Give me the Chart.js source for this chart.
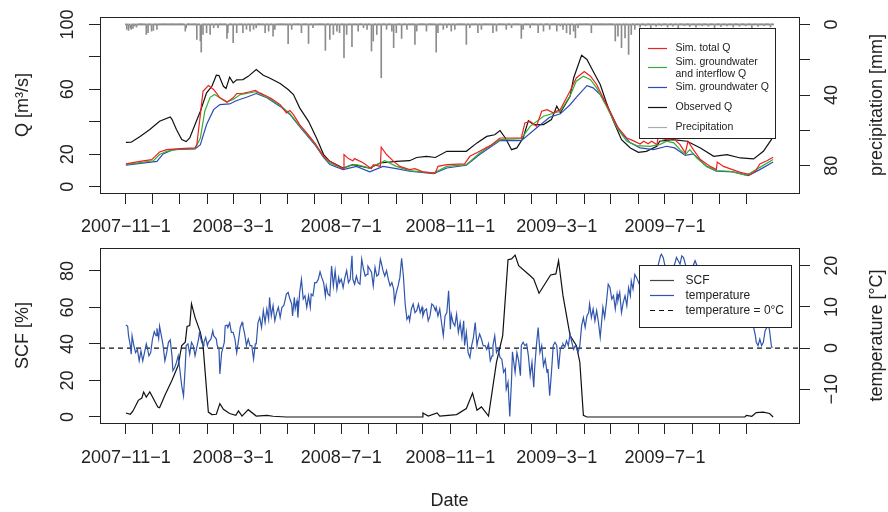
<!DOCTYPE html>
<html>
<head>
<meta charset="utf-8">
<script src="https://cdn.jsdelivr.net/npm/chart.js@4.4.1/dist/chart.umd.min.js"></script>
<style>
  body { margin: 0; background: #fff; width: 888px; height: 512px; position: relative; overflow: hidden; }
  canvas { position: absolute; left: 0; }
  #top { top: 0; }
  #bot { top: 240px; }
</style>
</head>
<body>
<canvas id="top" width="888" height="240"></canvas>
<canvas id="bot" width="888" height="272"></canvas>
<script>
// ---- data (day 0 = 2007-11-01) ----
const monthTicks = ["2007-11-1","2007-12-1","2008-1-1","2008-2-1","2008-3-1","2008-4-1","2008-5-1","2008-6-1",
  "2008-7-1","2008-8-1","2008-9-1","2008-10-1","2008-11-1","2008-12-1","2009-1-1","2009-2-1","2009-3-1",
  "2009-4-1","2009-5-1","2009-6-1","2009-7-1","2009-8-1","2009-9-1","2009-10-1"];
const labelledTicks = ["2007-11-1","2008-3-1","2008-7-1","2008-11-1","2009-3-1","2009-7-1"];

const obsDays = [0,6,16,27,38,50,52,57,63,68,72,78,84,91,97,102,105,110,113,117,121,125,132,138,147,155,162,174,183,189,
  196,206,215,223,230,245,256,275,287,305,320,328,339,349,362,373,384,396,407,416,422,428,435,441,448,454,460,471,480,486,
  490,501,505,514,520,527,535,542,550,559,569,578,587,599,602,617,633,648,663,678,693,708,719,728,730];
const obsQ = [27.3,27.4,31,35.2,40.3,43,41.5,35.2,29,27.8,30,38.3,46.5,57.8,61.9,68.7,68.5,61.9,60.5,67.5,
  64,65.9,66,68,72.2,68.7,67,63.6,59.9,56.8,48.6,40.3,30,19.8,15.6,11.5,13.6,11.5,14.6,15.6,
  16,18,18.7,18,21.8,21.8,21.8,27,31,32,34.6,30,22.8,23.9,30,40.7,38.3,38.3,41.4,49.6,
  45.5,55.7,67,81,78.4,71.2,63,51.7,40.3,29,23.9,21.2,21.8,24.9,28,29,28,23.9,18.7,19.8,17.7,17.1,21.8,29,32];

const totDays = [0,16,29,33,38,46,61,78,80,84,87,93,99,106,114,121,125,132,140,146,151,159,164,174,181,185,189,196,206,213,
  223,230,245,246,251,256,258,268,277,279,287,288,294,302,309,320,326,335,349,352,362,382,388,399,411,422,446,450,456,463,
  469,475,482,490,501,508,517,524,531,542,554,565,572,580,584,589,593,599,601,605,610,618,625,631,634,640,648,659,666,667,
  674,681,693,704,710,715,723,730];
const totQ = [14,15.6,16.7,18.7,21.4,22.8,23.5,23.9,25.9,44.4,58.8,62.3,59.9,54.8,52,54.8,57.4,57.6,58.5,59.3,
  57.8,55.7,54.3,50.6,45.5,46.9,44.4,38.3,31.7,27,18.7,15.6,11.1,19.8,17.3,16,17.3,14.6,11.1,13.6,
  12.5,24.3,19.8,15.6,12.5,10.5,11.1,9.1,8.4,12.5,13.6,14,18.7,21.8,25.3,30,30,39.3,40.3,37.2,
  46.5,47.5,45.5,47.5,59,67,71,68.1,63,50.6,37.2,30,28.4,26.3,28,26.5,28,25.9,33,29.5,
  29,29.6,25.9,20.8,28,22.8,16.7,12.5,10.5,15.2,12.5,11.1,8.8,7.4,9.5,14,16,18.1];

const gwiDays = [0,31,38,46,61,78,84,89,95,100,106,114,121,129,146,151,164,174,185,196,213,223,230,245,253,260,275,292,305,320,
  347,362,384,399,422,446,456,471,490,501,508,516,524,531,542,554,565,576,591,602,610,618,625,631,636,644,655,666,681,700,715,730];
const gwiQ = [13.6,16,19.8,21.8,23.3,23.5,30,46.5,55.1,56.8,54.8,52.3,53.7,56.8,58.5,57.3,53.6,50,45,37.5,
  26.5,18.5,14.6,11.1,13.2,13.6,11.5,16,12.5,9.9,8.4,12.5,13.6,20.8,29,29.6,37.2,43.4,46.5,56,
  65,68.1,66,60.9,49.6,36.2,28,25.3,24.9,25.9,28,27,22.8,19.8,22.8,17.7,12.5,9.9,9.5,7,11.9,16.7];

const gwDays = [0,35,42,53,78,84,91,99,106,117,125,136,147,159,174,185,196,213,223,230,245,260,275,290,305,320,347,362,384,399,
  422,446,463,478,490,501,508,520,527,535,546,557,569,580,595,610,619,631,640,655,666,685,702,715,730];
const gwQ = [13.3,15.6,20.2,22.8,23.3,25.9,38.3,47.5,50.6,51,53.1,55.1,57.4,54.8,49.5,44.5,37,26,18,13.6,
  10.5,12.5,9.1,12.5,11.1,9.5,8,11.5,13.2,19.8,28.4,28.4,36.2,42.8,44.9,50.5,55,62.3,60.9,56.8,
  46.5,34.1,27,23.9,22.8,24.9,23.9,19.3,20.2,12.5,9.5,9.1,6.8,10.5,15.2];

const precDays = [1,3,5,6,8,10,12,23,25,29,31,35,67,68,80,84,85,87,91,95,99,104,114,115,121,125,132,136,140,144,
  147,157,161,166,168,183,187,198,206,211,225,230,234,238,241,246,249,255,262,268,272,277,279,283,288,294,300,302,305,311,
  317,326,328,339,350,352,358,362,367,371,384,388,397,401,414,418,429,435,446,448,456,465,471,478,486,490,493,497,501,505,
  507,510,525,552,555,559,563,567,570,574,580,586,592,598,604,611,617,623,630,636,643,650,657,664,671,678,685,692,699,706,
  713,720,727];
const precMm = [2.8,3.4,1.9,2.8,2.3,0.9,1.5,5.7,4.7,3.8,3.4,2.8,3.8,1.9,8.5,9.4,15.7,5.7,4.7,5.7,
  1.9,1.9,7.9,4.7,10.4,4.7,4.7,2.8,3.8,2.8,1.9,4.7,3.8,6.6,2.8,10.9,2.8,4.7,10.8,1.9,
  14.7,8.5,5.7,3.8,4.7,18.9,5.7,12.6,3.8,1.9,2.8,15.1,9.4,5.7,30.2,2.8,3.8,13.2,4.7,7.9,
  2.8,11.3,3.8,3.8,15.7,4.7,2.8,1.9,3.8,2.8,11.3,1.9,4.7,2.8,4.7,3.8,2.8,1.9,7.9,2.8,
  1.9,4.7,3.8,2.8,3.8,0.9,2.8,4.7,5.7,3.8,7.6,1.9,4.7,9.4,6.6,13.2,7.6,17,5.7,2.8,
  1.5,0.8,1.9,1.2,0.8,1.5,1.0,1.9,0.8,1.2,1.5,0.8,1.0,1.9,1.2,0.8,1.5,1.0,0.8,1.9,1.2,0.8,1.5];

const scfDays = [0,5,8,14,18,20,23,27,33,36,38,44,52,59,63,67,69,72,74,78,84,87,93,97,102,106,110,117,124,127,
  131,138,147,159,166,181,334,335,341,351,354,373,384,391,396,401,409,418,425,431,435,439,443,456,460,466,479,485,488,493,
  501,508,512,516,520,698,700,706,711,719,726,730];
const scfPct = [2.2,1.5,3.3,9.1,10.4,13.7,10.9,13.7,8.2,5.5,5.1,11.9,20.1,28.3,39.2,41,49.6,50.1,62,54.6,
  46.4,39.2,2.7,1.3,1.5,7.3,4.2,1.9,0.9,3.3,0.5,4,0.5,0.9,0.4,0,0,2.2,0.5,2.2,
  0.5,1.3,4.6,13.1,3.7,5.5,0.5,30,44.6,86.2,86.6,88.7,82.9,77.4,75.6,67.8,77.8,78.4,85.6,66.5,
  44.6,39.2,30,0.9,0,0,0.9,0.4,2.4,2.7,1.9,0];

const tempDays = [0,2,3,5,6,7,9,11,13,15,17,19,21,23,24,26,28,30,32,34,35,37,38,40,42,44,46,48,50,52,
  53,55,57,59,61,63,65,67,68,70,72,74,76,78,80,82,83,85,87,88,90,92,93,96,98,99,102,103,105,106,
  108,109,111,112,114,115,117,119,121,123,125,127,129,131,132,134,136,138,140,142,144,146,147,149,151,153,155,157,159,161,
  162,164,166,168,170,172,174,176,178,179,181,183,185,187,188,190,191,193,194,196,198,200,202,204,206,208,209,211,213,215,
  217,219,221,223,225,226,228,
  230,232,234,236,238,240,241,243,245,247,249,251,253,255,256,258,260,262,264,266,268,270,272,273,275,277,279,281,283,285,
  287,288,290,292,294,296,298,300,302,303,305,307,309,311,313,315,317,319,320,322,324,326,328,330,332,334,335,337,339,341,
  343,345,347,349,350,352,354,356,358,360,362,364,366,367,369,371,373,375,377,379,381,382,384,386,388,390,392,394,396,397,
  399,401,403,405,407,409,411,413,414,416,418,420,422,424,426,428,429,431,433,435,436,438,439,
  441,443,445,446,448,450,452,454,456,458,460,461,463,465,467,469,471,473,475,476,478,480,482,484,486,488,490,
  492,493,495,497,499,501,503,505,507,508,510,512,514,516,518,520,522,523,525,527,529,531,533,535,537,538,540,542,544,546,
  548,550,552,554,555,557,559,561,563,565,567,569,570,572,574,576,580,584,587,591,595,599,603,604,606,608,612,616,619,621,
  623,625,627,629,631,635,638,642,644,648,653,659,665,670,676,682,687,693,699,704,708,710,711,713,715,717,719,721,723,725,
  726,728,729];
const tempC = [5.6,5.3,3.0,0.6,-1.5,3.0,0.6,-1.1,-0.3,-3.1,-0.7,-3.1,-1.1,1.0,0.2,-1.9,-1.1,2.2,4.0,3.0,
  4.8,2.3,5.3,3.0,0.6,-3.1,-1.1,1.4,2.0,-1.9,-5.5,-4.7,-3.5,-1.9,-5.5,-9.2,-11.6,-4.3,0.6,1.0,
  -1.5,1.4,0.6,-1.9,0.2,2.2,3.8,1.8,0.6,1.4,2.6,0.6,1.4,2.2,4.2,3.0,2.2,0.6,-0.3,-6.3,
  -1.1,-0.3,1.4,5.4,5.6,5.0,6.1,3.8,3.8,2.2,-1.1,1.8,5.0,6.2,5.4,3.4,0.6,2.2,0.6,0.6,
  -2.7,1.0,1.0,6.2,7.4,5.0,9.1,6.2,9.5,7.0,12.3,7.8,10.3,6.6,8.6,9.9,7.4,9.9,10.3,11.1,
  13.1,13.5,11.9,10.7,7.8,12.3,9.5,11.5,7.4,13.5,16.7,11.9,12.7,9.9,12.7,9.9,13.1,12.7,15.9,15.9,
  16.7,18.5,17.1,15.9,12.7,15.1,13.1,
  12.7,19.9,15.1,18.8,14.3,17.1,15.9,16.7,14.7,17.1,18.8,15.9,16.7,22.4,16.7,15.5,17.5,15.9,15.5,21.6,
  19.2,17.5,17.9,19.9,19.2,18.4,15.1,19.6,17.5,17.9,21.6,20.8,18.8,17.5,18.8,16.7,15.1,15.9,14.3,11.1,
  13.5,15.1,17.1,21.8,17.5,10.7,7.0,7.8,6.6,9.5,10.7,8.6,9.1,10.7,8.6,9.9,7.8,9.1,9.5,6.6,
  7.8,10.7,10.3,9.1,9.9,7.8,9.5,6.2,3.0,7.8,8.6,13.9,4.6,8.2,6.2,5.4,8.2,3.8,6.2,2.6,
  6.6,0.6,3.8,-1.1,-2.3,0.6,2.6,6.2,0.6,1.8,3.4,2.2,0.6,0.6,-0.3,1.0,-3.1,-1.9,0.6,3.0,
  -1.1,-0.3,-2.3,-2.7,-5.9,-5.1,-10.0,-8.3,-16.6,-7.5,-0.9,-4.3,-5.9,
  -1.1,-3.1,-6.7,0.6,1.4,0.6,1.0,-1.9,-6.7,-3.5,-9.5,-5.1,0.6,5.0,-1.1,0.6,-4.3,-2.7,-5.9,-5.1,
  -11.6,-5.9,0.6,1.4,0.6,-5.1,-0.3,
  0.6,1.0,0.2,1.8,0.6,3.4,1.4,-0.3,0.6,0.2,-1.1,0.6,5.4,7.4,5.0,7.8,8.6,10.7,7.4,9.5,
  6.6,9.1,6.2,2.6,7.4,9.9,7.4,11.1,15.5,14.7,11.9,12.7,9.5,13.1,11.5,13.5,8.6,11.1,12.7,10.3,
  14.7,12.7,16.3,14.3,17.9,17.1,15,17,14,18,16,19,22.4,22.8,22.0,20.0,17,19,20.4,22.0,
  21.2,20.4,22.4,22.0,20.4,17,19,21.2,20.1,17,15,16,13,14,12,13,11,12,9,10,
  5.0,3.0,1.4,0.6,2.2,0.6,1.4,4.2,5.0,5.4,4.2,0.6,0.0];

const qNames = ["Sim. total Q", "Sim. groundwater and interflow Q", "Sim. groundwater Q", "Observed Q", "Precipitation"];
const snowNames = ["SCF", "temperature", "temperature = 0\u00b0C"];

// ---- helpers ----
const FONT = '"Liberation Sans", Arial, Helvetica, sans-serif';
const start = Date.UTC(2007, 10, 1);
const dayOf = s => { const [y, m, d] = s.split("-").map(Number); return (Date.UTC(y, m - 1, d) - start) / 864e5; };
const monthDays = monthTicks.map(dayOf);
const xMin = -29.2, xMax = 759.2;
const fmt = v => (v < 0 ? "\u2212" + Math.abs(v) : String(v));
const pts = (days, vals) => days.map((d, i) => ({ x: d, y: vals[i] }));

const precDaily = [];
for (let d = 0; d <= 730; d++) precDaily.push({ x: d, y: 0 });
precDays.forEach((d, i) => { precDaily[d].y = precMm[i]; });

const gridOpts = { drawOnChartArea: false, tickLength: 11, color: "#222", lineWidth: 1, offset: false };

function xAxis(h) {
  return {
    type: "linear", position: "bottom", min: xMin, max: xMax, offset: false,
    afterBuildTicks: s => { s.ticks = monthDays.map(v => ({ value: v })); },
    afterFit: s => { s.height = h; },
    grid: gridOpts, border: { display: false }, ticks: { display: false }
  };
}
function yAxis(pos, min, max, tickVals, w, reverse) {
  return {
    type: "linear", position: pos, min: min, max: max, reverse: !!reverse, beginAtZero: false,
    afterBuildTicks: s => { s.ticks = tickVals.map(v => ({ value: v })); },
    afterFit: s => { s.width = w; },
    grid: gridOpts, border: { display: false }, ticks: { display: false }
  };
}

// box, tick labels and titles drawn R-style
const rFrame = {
  id: "rFrame",
  afterDraw(chart, args, o) {
    const ctx = chart.ctx, a = chart.chartArea;
    ctx.save();
    ctx.strokeStyle = "#222";
    ctx.lineWidth = 1;
    ctx.strokeRect(Math.round(a.left) + 0.5, Math.round(a.top) + 0.5, Math.round(a.right - a.left), Math.round(a.bottom - a.top));
    ctx.fillStyle = "#222";
    ctx.font = "18px " + FONT;
    ctx.textAlign = "center";
    ctx.textBaseline = "middle";
    const xs = chart.scales.x;
    labelledTicks.forEach(t => ctx.fillText(t.replace(/-/g, "\u2212"), xs.getPixelForValue(dayOf(t)), o.xLabelY));
    if (o.xTitle) ctx.fillText(o.xTitle, (a.left + a.right) / 2, o.xTitleY);
    const mid = (a.top + a.bottom) / 2;
    o.yAxes.forEach(ax => {
      const s = chart.scales[ax.id];
      ax.labels.forEach(v => {
        ctx.save();
        ctx.translate(ax.x, s.getPixelForValue(v));
        ctx.rotate(-Math.PI / 2);
        ctx.fillText(fmt(v), 0, 0);
        ctx.restore();
      });
      ctx.save();
      ctx.translate(ax.titleX, mid);
      ctx.rotate(-Math.PI / 2);
      ctx.fillText(ax.title, 0, 0);
      ctx.restore();
    });
    ctx.restore();
  }
};

const rLegend = {
  id: "rLegend",
  afterDatasetsDraw(chart, args, o) {
    const ctx = chart.ctx, b = o.box;
    ctx.save();
    ctx.fillStyle = "#fff";
    ctx.fillRect(b[0], b[1], b[2] - b[0], b[3] - b[1]);
    ctx.strokeStyle = "#222";
    ctx.lineWidth = 1;
    ctx.strokeRect(b[0] + 0.5, b[1] + 0.5, b[2] - b[0], b[3] - b[1]);
    ctx.font = o.font;
    ctx.textBaseline = "middle";
    ctx.textAlign = "left";
    o.items.forEach(it => {
      ctx.strokeStyle = it.color;
      ctx.lineWidth = 1.2;
      ctx.setLineDash(it.dash || []);
      ctx.beginPath();
      ctx.moveTo(o.x1, it.y);
      ctx.lineTo(o.x2, it.y);
      ctx.stroke();
      ctx.setLineDash([]);
      ctx.fillStyle = "#222";
      it.text.forEach((t, k) => ctx.fillText(t, o.tx, it.ty[k]));
    });
    ctx.restore();
  }
};

const RED = "#ee2020", GREEN = "#33b033", BLUE = "#2a4cb8", BLACK = "#111", GRAY = "#8c8c8c", TBLUE = "#2f55ad";
const lineDs = (label, data, color, axis) => ({
  type: "line", label: label, data: data, borderColor: color, borderWidth: 1.2,
  pointRadius: 0, fill: false, tension: 0, yAxisID: axis
});

new Chart(document.getElementById("top"), {
  type: "line",
  data: {
    datasets: [
      lineDs(qNames[0], pts(totDays, totQ), RED, "yQ"),
      lineDs(qNames[1], pts(gwiDays, gwiQ), GREEN, "yQ"),
      lineDs(qNames[2], pts(gwDays, gwQ), BLUE, "yQ"),
      lineDs(qNames[3], pts(obsDays, obsQ), BLACK, "yQ"),
      {
        type: "bar", label: qNames[4], data: precDaily, backgroundColor: GRAY, borderWidth: 0,
        barThickness: 1, minBarLength: 1, grouped: false, yAxisID: "yP"
      }
    ]
  },
  options: {
    responsive: false, animation: false, events: [],
    layout: { padding: { top: 17, left: 0, right: 0, bottom: 0 } },
    scales: {
      x: xAxis(47),
      yQ: yAxis("left", -3.9, 104.6, [0, 20, 40, 60, 80, 100], 100),
      yP: yAxis("right", -4.2, 95.5, [0, 20, 40, 60, 80], 89, true)
    },
    plugins: {
      legend: { display: false }, tooltip: { enabled: false },
      rFrame: {
        xLabelY: 227,
        yAxes: [
          { id: "yQ", labels: [0, 20, 60, 100], x: 68.5, title: "Q [m\u00b3/s]", titleX: 23 },
          { id: "yP", labels: [0, 40, 80], x: 832, title: "precipitation [mm]", titleX: 877 }
        ]
      },
      rLegend: {
        box: [639, 28, 775, 138], font: "10.5px " + FONT, x1: 648, x2: 667, tx: 675.5,
        items: [
          { text: [qNames[0]], color: RED, y: 48.5, ty: [48.5] },
          { text: ["Sim. groundwater", "and interflow Q"], color: GREEN, y: 67.5, ty: [62.3, 74.3] },
          { text: [qNames[2]], color: BLUE, y: 87.5, ty: [87.3] },
          { text: [qNames[3]], color: BLACK, y: 107.5, ty: [107.3] },
          { text: [qNames[4]], color: "#aaa", y: 127.5, ty: [127.3] }
        ]
      }
    }
  },
  plugins: [rFrame, rLegend]
});

new Chart(document.getElementById("bot"), {
  type: "line",
  data: {
    datasets: [
      lineDs(snowNames[1], pts(tempDays, tempC), TBLUE, "yT"),
      lineDs(snowNames[0], pts(scfDays, scfPct), BLACK, "yS"),
      Object.assign(lineDs(snowNames[2], [{ x: xMin, y: 0 }, { x: xMax, y: 0 }], BLACK, "yT"), { borderDash: [5, 4] })
    ]
  },
  options: {
    responsive: false, animation: false, events: [],
    layout: { padding: { top: 8, left: 0, right: 0, bottom: 0 } },
    scales: {
      x: xAxis(89),
      yS: yAxis("left", -3.3, 92.6, [0, 20, 40, 60, 80], 100),
      yT: yAxis("right", -18.2, 24.3, [-10, 0, 10, 20], 89)
    },
    plugins: {
      legend: { display: false }, tooltip: { enabled: false },
      rFrame: {
        xLabelY: 218, xTitle: "Date", xTitleY: 261.5,
        yAxes: [
          { id: "yS", labels: [0, 20, 40, 60, 80], x: 68.5, title: "SCF [%]", titleX: 23 },
          { id: "yT", labels: [-10, 0, 10, 20], x: 832, title: "temperature [\u00b0C]", titleX: 877 }
        ]
      },
      rLegend: {
        box: [639, 25, 791, 87], font: "12px " + FONT, x1: 650, x2: 674, tx: 685.5,
        items: [
          { text: [snowNames[0]], color: "#444", y: 40.5, ty: [40.5] },
          { text: [snowNames[1]], color: TBLUE, y: 55.5, ty: [55.3] },
          { text: [snowNames[2]], color: BLACK, y: 70.5, ty: [70.3], dash: [5, 4] }
        ]
      }
    }
  },
  plugins: [rFrame, rLegend]
});
</script>
</body>
</html>
